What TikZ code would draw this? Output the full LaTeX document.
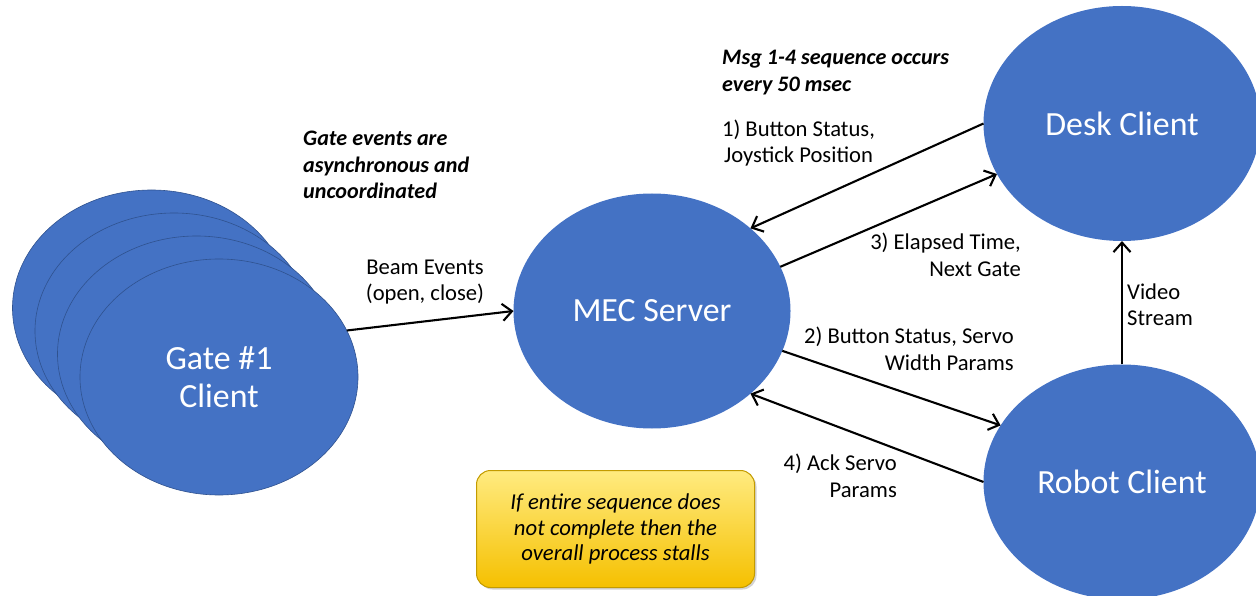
\documentclass[tikz,border=0pt]{standalone}
\usepackage{fontspec}
\setmainfont{Carlito}
\usetikzlibrary{arrows.meta,shapes.geometric,shadows}
\definecolor{nodeblue}{HTML}{4472C4}
\definecolor{rimblue}{HTML}{2F528F}
\definecolor{notetop}{HTML}{FFEB80}
\definecolor{notebot}{HTML}{F5C000}
\definecolor{noterim}{HTML}{C39B00}
\tikzset{
  client/.style={ellipse, fill=nodeblue, draw=none, inner sep=0pt, outer sep=0pt,
    minimum width=277bp, minimum height=235bp, text=white, align=center,
    font=\fontsize{34}{40}\selectfont},
  gatedisc/.style={client, draw=rimblue, line width=0.6bp, minimum width=278bp, minimum height=236bp},
  msg/.style={line width=2.1bp, -{Straight Barb[length=9.5bp,width=17bp,line width=2.1bp]}},
  lbl/.style={font=\fontsize{22.7}{26.5}\selectfont, inner sep=0pt},
  note/.style={font=\fontsize{22.2}{26.8}\selectfont\bfseries\itshape, inner sep=0pt, align=left},
  notebox/.style={rounded corners=14bp, draw=noterim, line width=1bp,
    top color=notetop, bottom color=notebot, minimum width=278bp, minimum height=117bp,
    inner sep=0pt, align=center, font=\fontsize{22.8}{25.6}\selectfont\itshape,
    drop shadow={shadow xshift=2bp, shadow yshift=-2bp, opacity=0.35}}
}
\begin{document}
\begin{tikzpicture}[x=1bp,y=-1bp]
\useasboundingbox (0,0) rectangle (1256,596);

% stack of gate clients, back to front
\node[gatedisc] (gate4) at (151.5,308) {};
\node[gatedisc] (gate3) at (174,331) {};
\node[gatedisc] (gate2) at (196.5,354) {};
\node[gatedisc] (gate1) at (219,377) {Gate \#1\\[-2bp]Client};

% server and the two clients
\node[client] (mec) at (652,311) {MEC Server};
\node[client] (desk) at (1122,123.5) {Desk Client};
\node[client] (robot) at (1122,482) {Robot Client};

% notes
\node[note, anchor=west] (gatenote) at (303,165) {Gate events are\\asynchronous and\\uncoordinated};
\node[note, anchor=west] (seqnote) at (722,72.5) {Msg 1-4 sequence occurs\\every 50 msec};
\node[notebox] (stall) at (615.5,529) {If entire sequence does\\not complete then the\\overall process stalls};

% messages
\draw[msg] (gate1.20.5) -- (mec.180);
\draw[msg] (desk.180) -- (mec.40.4);
\draw[msg] (mec.19.8) -- (desk.202);
\draw[msg] (mec.343.3) -- (robot.155);
\draw[msg] (robot.180) -- (mec.320.3);
\draw[msg] (robot.90) -- (desk.270);

% message labels
\node[lbl, align=center] (beamlbl) at (425,282) {Beam Events\\(open, close)};
\node[lbl, align=center] (m1lbl) at (798.5,143) {1) Button Status,\\Joystick Position};
\node[lbl, align=right, anchor=east] (m3lbl) at (1021,255) {3) Elapsed Time,\\Next Gate};
\node[lbl, align=right, anchor=east] (m2lbl) at (1014,349) {2) Button Status, Servo\\Width Params};
\node[lbl, align=right, anchor=east] (m4lbl) at (897,476) {4) Ack Servo\\Params};
\node[lbl, align=left, anchor=west] (videolbl) at (1127,305) {Video\\Stream};
\end{tikzpicture}
\end{document}
